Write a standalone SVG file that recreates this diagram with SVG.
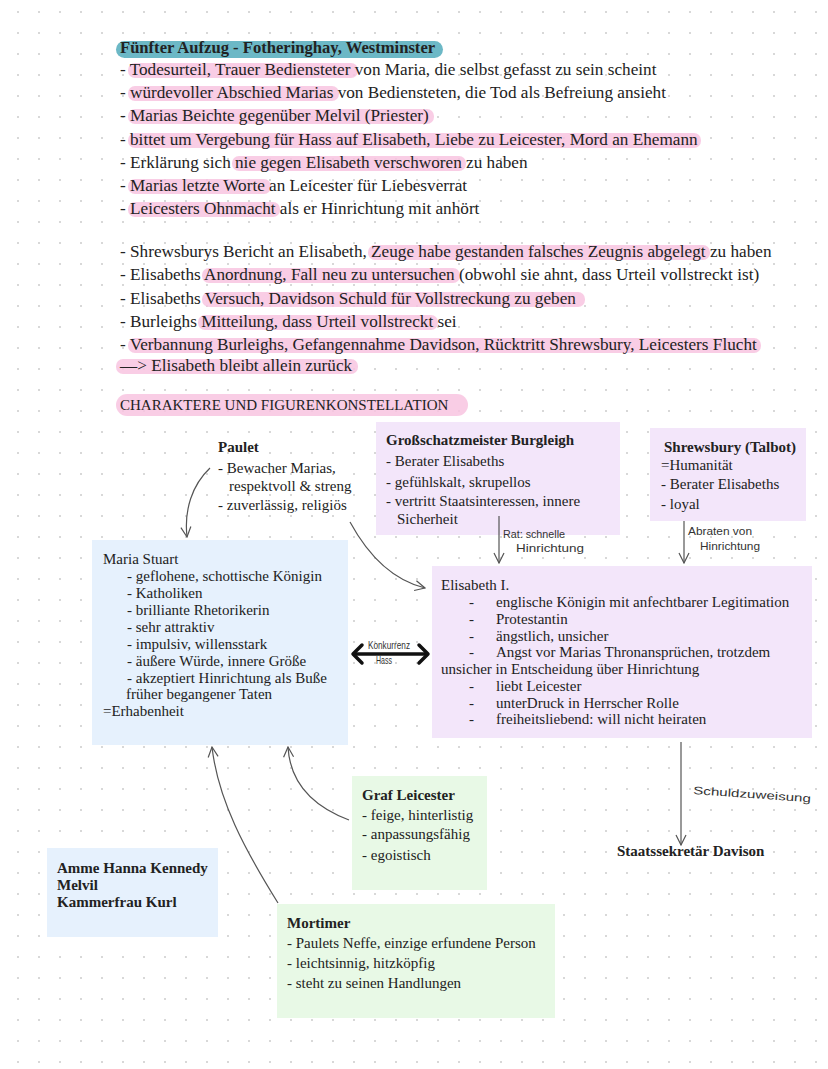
<svg xmlns="http://www.w3.org/2000/svg" width="828" height="1069" viewBox="0 0 828 1069">
<defs>
<pattern id="dots" x="8" y="2" width="21" height="21" patternUnits="userSpaceOnUse">
<circle cx="10" cy="10" r="1.1" fill="#cfcfcf"/>
</pattern>
<marker id="v" viewBox="0 0 12 12" refX="11" refY="6" markerWidth="12" markerHeight="12" markerUnits="userSpaceOnUse" orient="auto">
<path d="M1,1 L11,6 L1,11" fill="none" stroke="#555" stroke-width="1.2"/>
</marker>
<style>
.t{font-family:"Liberation Serif","DejaVu Serif",serif;font-size:17.2px;fill:#222}
.h{font-family:"Liberation Serif","DejaVu Serif",serif;font-size:16.6px;font-weight:bold;fill:#222}
.d{font-family:"Liberation Serif","DejaVu Serif",serif;font-size:15px;fill:#222}
.b{font-family:"Liberation Serif","DejaVu Serif",serif;font-size:15px;font-weight:bold;fill:#222}
.hw{font-family:"Liberation Sans","DejaVu Sans",sans-serif;font-size:11px;fill:#333}
.pk{fill:#f8c4e0;opacity:0.85}
.blue{fill:#e6f1fd}
.lav{fill:#f3e6fa}
.grn{fill:#e8f9e6}
.con{fill:none;stroke:#555;stroke-width:1.2}
</style>
</defs>
<rect width="828" height="1069" fill="#ffffff"/>
<rect width="828" height="1069" fill="url(#dots)"/>

<g id="highlights">
<rect x="116" y="41" width="327" height="17" rx="8.5" fill="#6cb8c6"/>
<rect class="pk" x="128" y="63" width="230" height="15" rx="7"/>
<rect class="pk" x="128" y="86" width="211" height="15" rx="7"/>
<rect class="pk" x="128" y="109" width="306" height="15" rx="7"/>
<rect class="pk" x="128" y="133" width="573" height="15" rx="7"/>
<rect class="pk" x="232" y="156" width="234" height="15" rx="7"/>
<rect class="pk" x="128" y="179" width="143" height="15" rx="7"/>
<rect class="pk" x="128" y="202" width="152" height="15" rx="7"/>
<rect class="pk" x="368" y="245" width="342" height="15" rx="7"/>
<rect class="pk" x="202" y="268" width="258" height="15" rx="7"/>
<rect class="pk" x="202" y="292" width="383" height="15" rx="7"/>
<rect class="pk" x="198" y="315" width="240" height="15" rx="7"/>
<rect class="pk" x="128" y="338" width="633" height="15" rx="7"/>
<rect class="pk" x="116" y="359" width="242" height="15" rx="7"/>
<rect class="pk" x="116" y="394" width="352" height="22" rx="11"/>
</g>

<g id="text-top">
<text class="h" x="120" y="53">Fünfter Aufzug - Fotheringhay, Westminster</text>
<text class="t" x="120" y="75">- Todesurteil, Trauer Bediensteter von Maria, die selbst gefasst zu sein scheint</text>
<text class="t" x="120" y="98">- würdevoller Abschied Marias von Bediensteten, die Tod als Befreiung ansieht</text>
<text class="t" x="120" y="121">- Marias Beichte gegenüber Melvil (Priester)</text>
<text class="t" x="120" y="145">- bittet um Vergebung für Hass auf Elisabeth, Liebe zu Leicester, Mord an Ehemann</text>
<text class="t" x="120" y="168">- Erklärung sich nie gegen Elisabeth verschworen zu haben</text>
<text class="t" x="120" y="191">- Marias letzte Worte an Leicester für Liebesverrat</text>
<text class="t" x="120" y="214">- Leicesters Ohnmacht als er Hinrichtung mit anhört</text>
<text class="t" x="120" y="257">- Shrewsburys Bericht an Elisabeth, Zeuge habe gestanden falsches Zeugnis abgelegt zu haben</text>
<text class="t" x="120" y="280">- Elisabeths Anordnung, Fall neu zu untersuchen (obwohl sie ahnt, dass Urteil vollstreckt ist)</text>
<text class="t" x="120" y="304">- Elisabeths Versuch, Davidson Schuld für Vollstreckung zu geben</text>
<text class="t" x="120" y="327">- Burleighs Mitteilung, dass Urteil vollstreckt sei</text>
<text class="t" x="120" y="350">- Verbannung Burleighs, Gefangennahme Davidson, Rücktritt Shrewsbury, Leicesters Flucht</text>
<text class="t" x="120" y="371">—&gt; Elisabeth bleibt allein zurück</text>
<text class="d" x="120" y="410">CHARAKTERE UND FIGURENKONSTELLATION</text>
</g>

<g id="paulet">
<text class="b" x="218" y="452">Paulet</text>
<text class="d" x="218" y="473">- Bewacher Marias,</text>
<text class="d" x="229" y="491">respektvoll &amp; streng</text>
<text class="d" x="218" y="510">- zuverlässig, religiös</text>
</g>

<g id="burgleigh">
<rect class="lav" x="376" y="422" width="244" height="113"/>
<text class="b" x="386" y="445">Großschatzmeister Burgleigh</text>
<text class="d" x="386" y="466">- Berater Elisabeths</text>
<text class="d" x="386" y="487">- gefühlskalt, skrupellos</text>
<text class="d" x="386" y="506">- vertritt Staatsinteressen, innere</text>
<text class="d" x="397" y="524">Sicherheit</text>
</g>

<g id="shrewsbury">
<rect class="lav" x="650" y="428" width="156" height="93"/>
<text class="b" x="664" y="452">Shrewsbury (Talbot)</text>
<text class="d" x="661" y="470">=Humanität</text>
<text class="d" x="661" y="489">- Berater Elisabeths</text>
<text class="d" x="661" y="509">- loyal</text>
</g>

<g id="maria">
<rect class="blue" x="92" y="540" width="256" height="205"/>
<text class="d" x="103" y="564">Maria Stuart</text>
<text class="d" x="127" y="581">-  geflohene, schottische Königin</text>
<text class="d" x="127" y="598">-  Katholiken</text>
<text class="d" x="127" y="615">-  brilliante Rhetorikerin</text>
<text class="d" x="127" y="632">-  sehr attraktiv</text>
<text class="d" x="127" y="649">-  impulsiv, willensstark</text>
<text class="d" x="127" y="666">-  äußere Würde, innere Größe</text>
<text class="d" x="127" y="683">-  akzeptiert Hinrichtung als Buße</text>
<text class="d" x="126" y="699">früher begangener Taten</text>
<text class="d" x="103" y="716">=Erhabenheit</text>
</g>

<g id="elisabeth">
<rect class="lav" x="432" y="566" width="380" height="172"/>
<text class="d" x="441" y="590">Elisabeth I.</text>
<text class="d" x="469" y="607">-</text><text class="d" x="496" y="607">englische Königin mit anfechtbarer Legitimation</text>
<text class="d" x="469" y="624">-</text><text class="d" x="496" y="624">Protestantin</text>
<text class="d" x="469" y="641">-</text><text class="d" x="496" y="641">ängstlich, unsicher</text>
<text class="d" x="469" y="657">-</text><text class="d" x="496" y="657">Angst vor Marias Thronansprüchen, trotzdem</text>
<text class="d" x="441" y="674">unsicher in Entscheidung über Hinrichtung</text>
<text class="d" x="469" y="691">-</text><text class="d" x="496" y="691">liebt Leicester</text>
<text class="d" x="469" y="708">-</text><text class="d" x="496" y="708">unterDruck in Herrscher Rolle</text>
<text class="d" x="469" y="724">-</text><text class="d" x="496" y="724">freiheitsliebend: will nicht heiraten</text>
</g>

<g id="leicester">
<rect class="grn" x="352" y="776" width="135" height="114"/>
<text class="b" x="362" y="800">Graf Leicester</text>
<text class="d" x="362" y="820">- feige, hinterlistig</text>
<text class="d" x="362" y="839">- anpassungsfähig</text>
<text class="d" x="362" y="860">- egoistisch</text>
</g>

<g id="amme">
<rect class="blue" x="47" y="848" width="171" height="89"/>
<text class="b" x="57" y="873">Amme Hanna Kennedy</text>
<text class="b" x="57" y="890">Melvil</text>
<text class="b" x="57" y="907">Kammerfrau Kurl</text>
</g>

<g id="mortimer">
<rect class="grn" x="277" y="904" width="278" height="114"/>
<text class="b" x="287" y="928">Mortimer</text>
<text class="d" x="287" y="948">- Paulets Neffe, einzige erfundene Person</text>
<text class="d" x="287" y="968">- leichtsinnig, hitzköpfig</text>
<text class="d" x="287" y="988">- steht zu seinen Handlungen</text>
</g>

<g id="davison">
<text class="b" x="617" y="856">Staatssekretär Davison</text>
</g>

<g id="connectors">
<path class="con" d="M210 468 C 192 485, 184 510, 187 537" marker-end="url(#v)"/>
<path class="con" d="M350 522 C 368 555, 392 580, 425 588" marker-end="url(#v)"/>
<path class="con" d="M349 820 C 312 806, 290 782, 288 747" marker-end="url(#v)"/>
<path class="con" d="M278 903 C 245 850, 218 800, 212 747" marker-end="url(#v)"/>
<line class="con" x1="499" y1="516" x2="499" y2="563" marker-end="url(#v)"/>
<line class="con" x1="684" y1="521" x2="684" y2="563" marker-end="url(#v)"/>
<line class="con" x1="681" y1="742" x2="681" y2="845" marker-end="url(#v)"/>
<line x1="355" y1="654" x2="426" y2="654" stroke="#111" stroke-width="3.5"/>
<polyline points="362,645 353,654 362,663" fill="none" stroke="#111" stroke-width="3.5" stroke-linecap="round" stroke-linejoin="round"/>
<polyline points="419,645 428,654 419,663" fill="none" stroke="#111" stroke-width="3.5" stroke-linecap="round" stroke-linejoin="round"/>
<text class="hw" x="368" y="649" font-size="6.5" textLength="42" lengthAdjust="spacingAndGlyphs">Konkurrenz</text>
<text class="hw" x="376" y="664" font-size="6.5" textLength="16" lengthAdjust="spacingAndGlyphs">Hass</text>
<text class="hw" x="503" y="538" textLength="62" lengthAdjust="spacingAndGlyphs">Rat: schnelle</text>
<text class="hw" x="516" y="552" textLength="68" lengthAdjust="spacingAndGlyphs">Hinrichtung</text>
<text class="hw" x="688" y="535" textLength="64" lengthAdjust="spacingAndGlyphs">Abraten  von</text>
<text class="hw" x="700" y="550" textLength="60" lengthAdjust="spacingAndGlyphs">Hinrichtung</text>
<text class="hw" x="693" y="794" font-size="15" textLength="118" lengthAdjust="spacingAndGlyphs" transform="rotate(4 693 794)">Schuldzuweisung</text>
</g>
</svg>
